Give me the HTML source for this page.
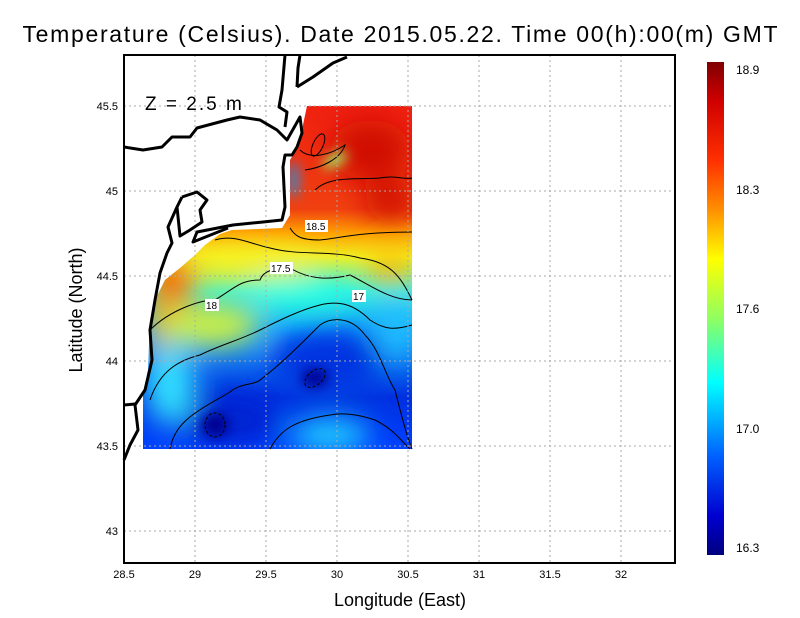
<!DOCTYPE html>
<html><head><meta charset="utf-8"><style>
html,body{margin:0;padding:0;background:#fff;}
svg{display:block;font-family:"Liberation Sans",sans-serif;}
</style></head><body>
<svg width="800" height="618" viewBox="0 0 800 618" xmlns="http://www.w3.org/2000/svg">
<defs>
<linearGradient id="cb" x1="0" y1="0" x2="0" y2="1">
<stop offset="0" stop-color="#800000"/>
<stop offset="0.08" stop-color="#d00000"/>
<stop offset="0.2" stop-color="#ff3000"/>
<stop offset="0.3" stop-color="#ff9000"/>
<stop offset="0.4" stop-color="#ffff00"/>
<stop offset="0.52" stop-color="#90ff60"/>
<stop offset="0.65" stop-color="#00ffff"/>
<stop offset="0.8" stop-color="#0060ff"/>
<stop offset="0.92" stop-color="#0000d0"/>
<stop offset="1" stop-color="#000080"/>
</linearGradient>
<linearGradient id="base" x1="0" y1="106" x2="0" y2="449" gradientUnits="userSpaceOnUse">
<stop offset="0" stop-color="#f02010"/>
<stop offset="0.3" stop-color="#f04010"/>
<stop offset="0.37" stop-color="#ffa000"/>
<stop offset="0.44" stop-color="#f0f020"/>
<stop offset="0.54" stop-color="#30f0e0"/>
<stop offset="0.66" stop-color="#10a0ff"/>
<stop offset="0.85" stop-color="#0030e0"/>
<stop offset="1" stop-color="#0040ff"/>
</linearGradient>
<clipPath id="dc"><path d="M307,106 L412,106 L412,449 L143,449 L143,395 L148,370 L150,320 L155,300 L165,280 L180,268 L195,255 L205,245 L220,234 L232,230 L282,228 L290,215 L290,160 L296,150 L298,145 L300,140 L304,120 Z"/></clipPath>
<filter id="bl" x="-50%" y="-50%" width="200%" height="200%"><feGaussianBlur stdDeviation="14"/></filter>
<filter id="bl2" x="-50%" y="-50%" width="200%" height="200%"><feGaussianBlur stdDeviation="6"/></filter>
</defs>
<text x="400" y="42" font-size="23" text-anchor="middle" textLength="755" lengthAdjust="spacing">Temperature (Celsius). Date 2015.05.22. Time 00(h):00(m)  GMT</text>
<g clip-path="url(#dc)">
<rect x="130" y="100" width="290" height="360" fill="url(#base)"/>
<g filter="url(#bl)">
<ellipse cx="370" cy="150" rx="40" ry="30" fill="#d01000"/>
<ellipse cx="390" cy="200" rx="25" ry="20" fill="#d01000"/>
<ellipse cx="172" cy="280" rx="22" ry="28" fill="#ff6000"/>
<ellipse cx="158" cy="320" rx="10" ry="35" fill="#ffa000"/>
<ellipse cx="250" cy="262" rx="70" ry="15" fill="#f8f020"/>
<ellipse cx="300" cy="292" rx="50" ry="14" fill="#20ffe0"/>
<ellipse cx="210" cy="325" rx="50" ry="22" fill="#d0f040"/>
<ellipse cx="390" cy="268" rx="20" ry="15" fill="#ffb000"/>
<ellipse cx="330" cy="360" rx="60" ry="30" fill="#0030e0"/>
<ellipse cx="230" cy="420" rx="50" ry="25" fill="#0020d0"/>
<ellipse cx="330" cy="435" rx="40" ry="15" fill="#20e0ff"/>
<ellipse cx="170" cy="385" rx="25" ry="40" fill="#30e0ff"/>
<ellipse cx="395" cy="330" rx="20" ry="30" fill="#20c0ff"/>
</g>
<g filter="url(#bl2)">
<ellipse cx="335" cy="160" rx="14" ry="6" fill="#a0f060" transform="rotate(-30 335 160)"/>
<ellipse cx="215" cy="425" rx="14" ry="12" fill="#000090"/>
<ellipse cx="315" cy="378" rx="14" ry="9" fill="#000090"/>
<ellipse cx="294" cy="180" rx="4" ry="18" fill="#00a0ff"/>
</g>
</g>
<g fill="none" stroke="#000" stroke-width="1">
<path d="M290,228 C295,236 300,240 320,240 C340,238 360,232 412,232"/>
<path d="M300,150 C310,160 330,155 345,145 C340,160 320,168 305,170"/>
<path d="M315,190 C330,175 360,180 380,178 C395,175 405,180 412,178"/>
<path d="M215,240 C235,234 250,244 270,248 C300,256 330,250 360,258 C390,262 400,275 412,300"/>
<path d="M150,330 C170,310 200,300 215,300 C235,288 240,280 260,280 C265,266 285,270 290,268 C310,280 330,280 350,275 C370,285 390,300 412,300"/>
<path d="M150,400 C160,370 180,360 200,355 C220,345 240,340 260,330 C280,320 300,310 320,305 C340,300 355,305 370,320 C385,330 395,330 412,325"/>
<path d="M170,449 C175,420 200,410 230,392 C240,383 255,385 260,380 C280,365 300,345 320,325 C330,318 350,315 365,335 C380,350 385,375 395,390 C400,410 408,440 412,449"/>
<path d="M270,449 C280,430 295,420 330,415 C345,412 360,415 375,420 C395,430 400,440 410,449"/>
<ellipse cx="215" cy="425" rx="10" ry="12" stroke-dasharray="3,2"/>
<ellipse cx="315" cy="378" rx="12" ry="7" transform="rotate(-40 315 378)" stroke-dasharray="3,2"/>
<ellipse cx="318" cy="145" rx="5" ry="12" transform="rotate(25 318 145)"/>
</g>
<rect x="305" y="220" width="23" height="12" fill="#fff"/><text x="306" y="230" font-size="10">18.5</text>
<rect x="270" y="262" width="23" height="12" fill="#fff"/><text x="271" y="272" font-size="10">17.5</text>
<rect x="205" y="299" width="14" height="12" fill="#fff"/><text x="206" y="309" font-size="10">18</text>
<rect x="352" y="290" width="14" height="12" fill="#fff"/><text x="353" y="300" font-size="10">17</text>
<g stroke="#aaa" stroke-width="1" stroke-dasharray="2,3">
<line x1="195" y1="55" x2="195" y2="563"/><line x1="266" y1="55" x2="266" y2="563"/>
<line x1="337" y1="55" x2="337" y2="563"/><line x1="408" y1="55" x2="408" y2="563"/>
<line x1="479" y1="55" x2="479" y2="563"/><line x1="550" y1="55" x2="550" y2="563"/>
<line x1="621" y1="55" x2="621" y2="563"/>
<line x1="124" y1="106" x2="675" y2="106"/><line x1="124" y1="191" x2="675" y2="191"/>
<line x1="124" y1="276" x2="675" y2="276"/><line x1="124" y1="361" x2="675" y2="361"/>
<line x1="124" y1="446" x2="675" y2="446"/><line x1="124" y1="531" x2="675" y2="531"/>
</g>
<g fill="none" stroke="#000" stroke-width="3" stroke-linejoin="round">
<path d="M285,55 L282,90 L279,107 L287,112 L285,127"/>
<path d="M297,87 L313,77 L333,63 L347,57"/>
<path d="M300,55 L298,68 L297,87"/>
<path d="M124,147 L143,150 L162,147 L172,137 L190,137 L197,128 L227,120 L240,117 L260,120 L277,130 L287,140 L300,117 L302,133 L297,147 L292,155 L285,155 L283,167 L285,207 L282,220 L263,222 L233,225 L197,232 L193,242 L228,228"/>
<path d="M182,197 L197,192 L207,200 L200,210 L202,222 L190,230 L180,236 L177,207 L182,197"/>
<path d="M177,207 L168,227 L172,243 L167,253 L160,273 L155,300 L150,330 L152,360 L145,390 L135,405 L138,430 L130,445 L124,460"/>
<path d="M124,405 L135,404"/>
</g>
<text x="145" y="110" font-size="19" letter-spacing="2">Z = 2.5 m</text>
<rect x="124" y="55" width="551" height="508" fill="none" stroke="#000" stroke-width="2"/>
<g font-size="11" text-anchor="middle">
<text x="124" y="578">28.5</text><text x="195" y="578">29</text><text x="266" y="578">29.5</text>
<text x="337" y="578">30</text><text x="408" y="578">30.5</text><text x="479" y="578">31</text>
<text x="550" y="578">31.5</text><text x="621" y="578">32</text>
</g>
<g font-size="11" text-anchor="end">
<text x="118" y="110">45.5</text><text x="118" y="195">45</text><text x="118" y="280">44.5</text>
<text x="118" y="365">44</text><text x="118" y="450">43.5</text><text x="118" y="535">43</text>
</g>
<text x="400" y="606" font-size="18" text-anchor="middle">Longitude (East)</text>
<text x="82" y="310" font-size="18" text-anchor="middle" transform="rotate(-90 82 310)">Latitude (North)</text>
<rect x="707" y="62" width="17" height="493" fill="url(#cb)"/>
<g font-size="12">
<text x="736" y="74">18.9</text><text x="736" y="194">18.3</text><text x="736" y="313">17.6</text>
<text x="736" y="433">17.0</text><text x="736" y="552">16.3</text>
</g>
</svg>
</body></html>
